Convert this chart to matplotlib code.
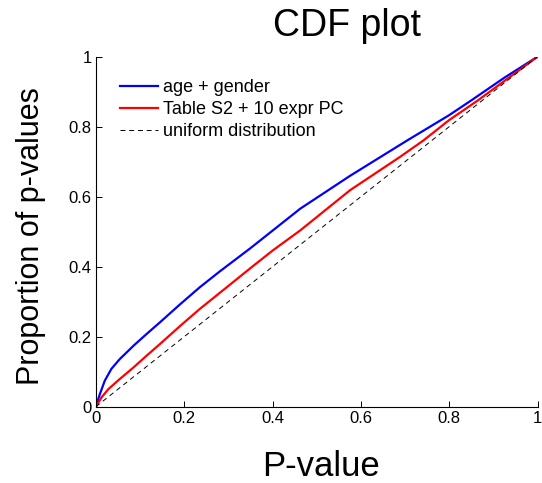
import matplotlib
matplotlib.use('Agg')
import matplotlib.pyplot as plt

plt.rcParams['font.family'] = ['Liberation Sans', 'DejaVu Sans']

# empirical CDF of p-values for the two covariate models
p_age = [0.0, 0.009, 0.020, 0.035, 0.054, 0.085, 0.115, 0.145, 0.191, 0.235, 0.281,
         0.349, 0.4, 0.463, 0.576, 0.704, 0.8, 0.851, 0.925, 1.0]
cdf_age = [0.0, 0.036, 0.074, 0.108, 0.136, 0.174, 0.208, 0.241, 0.293, 0.341, 0.387,
           0.452, 0.503, 0.566, 0.660, 0.760, 0.833, 0.876, 0.940, 1.0]

p_table = [0.0, 0.013, 0.028, 0.054, 0.085, 0.115, 0.145, 0.191, 0.235, 0.296, 0.352,
           0.4, 0.463, 0.576, 0.689, 0.742, 0.8, 0.866, 1.0]
cdf_table = [0.0, 0.027, 0.050, 0.079, 0.112, 0.146, 0.179, 0.231, 0.279, 0.341, 0.398,
             0.446, 0.504, 0.619, 0.714, 0.761, 0.819, 0.876, 1.0]

uniform = [0.0, 1.0]

labels = ['age + gender', 'Table S2 + 10 expr PC', 'uniform distribution']
ticks = [0, 0.2, 0.4, 0.6, 0.8, 1]
tick_labels = ['0', '0.2', '0.4', '0.6', '0.8', '1']

W, H = 542, 483
fig = plt.figure(figsize=(W / 100, H / 100), dpi=100)
ax = fig.add_axes([95.9 / W, 1 - 406.7 / H, (537.5 - 95.9) / W, 350 / H])

ax.plot(p_age, cdf_age, color='#0000ff', lw=1.6, label=labels[0])
ax.plot(p_table, cdf_table, color='#ff0000', lw=1.6, label=labels[1])
ax.plot(uniform, uniform, color='black', lw=0.7, dashes=(5, 4), label=labels[2])

ax.set_xlim(0, 1)
ax.set_ylim(0, 1)
ax.set_xticks(ticks)
ax.set_xticklabels(tick_labels)
ax.set_yticks(ticks)
ax.set_yticklabels(tick_labels)
ax.tick_params(direction='in', length=4, width=0.7, labelsize=12, pad=3)
for side in ['top', 'right']:
    ax.spines[side].set_visible(False)
for side in ['left', 'bottom']:
    ax.spines[side].set_linewidth(0.8)

ax.legend(loc='upper left', bbox_to_anchor=(0.0546, 0.935), frameon=False,
          fontsize=13, handlelength=2.1, handletextpad=0.28, labelspacing=0.26,
          borderaxespad=0, borderpad=0)

fig.text(347 / W, 1 - 26 / H, 'CDF plot', fontsize=27, ha='center', va='center')
fig.text(321 / W, 1 - 467 / H, 'P-value', fontsize=25, ha='center', va='center')
fig.text(31 / W, 1 - 236 / H, 'Proportion of p-values', fontsize=22,
         ha='center', va='center', rotation=90)

fig.savefig('out.png', dpi=100)
